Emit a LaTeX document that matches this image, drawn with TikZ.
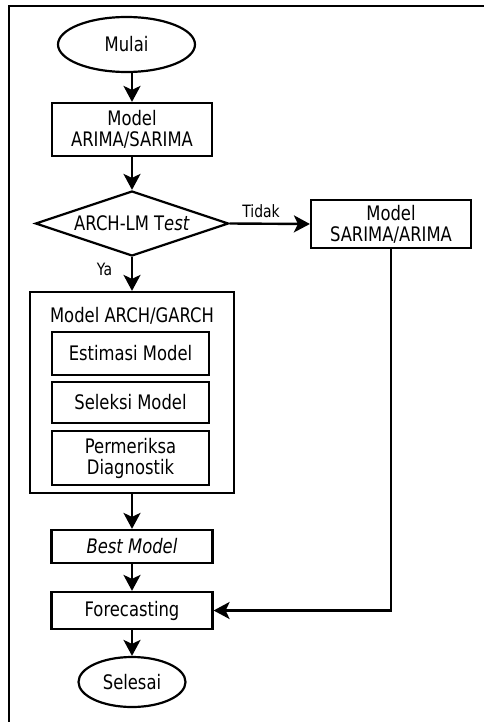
\documentclass[tikz,border=0pt]{standalone}
\usepackage{fontspec}
\setmainfont{DejaVu Sans}[FakeStretch=0.82]
\usetikzlibrary{shapes.geometric,arrows.meta}
\begin{document}
\begin{tikzpicture}[x=1pt,y=-1pt,
  every node/.style={font=\fontsize{20}{21}\selectfont, inner sep=0pt, align=center},
  box/.style={draw, line width=2.2pt, rectangle},
  oval/.style={draw, line width=2.2pt, ellipse},
  decision/.style={draw, line width=2.2pt, diamond, shape aspect=3},
  lbl/.style={font=\fontsize{17}{18}\selectfont},
  arr/.style={line width=2.4pt, -{Stealth[length=16pt,width=17pt,inset=4pt]}},
  frameline/.style={line width=2.4pt}]
\useasboundingbox (0,0) rectangle (483,722);
\coordinate (fbl) at (9,730);
\coordinate (ftl) at (9,6);
\coordinate (ftr) at (490,6);
\draw[frameline] (fbl) -- (ftl) -- (ftr);

\node[oval, minimum width=137pt, minimum height=55pt] (start) at (126.5,44.5) {Mulai};
\node[box, minimum width=160pt, minimum height=53pt] (m1) at (132,129.5) {Model\\ARIMA/SARIMA};
\node[decision, minimum width=193pt, minimum height=65pt] (dec) at (132,223.5) {ARCH-LM T\textit{est}};
\node[box, minimum width=160pt, minimum height=48pt] (r) at (391,224) {Model\\SARIMA/ARIMA};
\node[box, minimum width=204pt, minimum height=201pt] (big) at (132,392.5) {};
\node (title) at (132,316) {Model ARCH/GARCH};
\node[box, minimum width=157pt, minimum height=43pt] (est) at (130.5,353.5) {Estimasi Model};
\node[box, minimum width=157pt, minimum height=41pt] (sel) at (130.5,402.5) {Seleksi Model};
\node[box, minimum width=157pt, minimum height=54pt] (diag) at (130.5,458) {Permeriksa\\Diagnostik};
\node[box, minimum width=161pt, minimum height=33pt] (best) at (132,546.5) {\textit{Best Model}};
\node[box, minimum width=161pt, minimum height=37pt] (fc) at (132,610.5) {Forecasting};
\node[oval, minimum width=107pt, minimum height=50pt] (end) at (132,682) {Selesai};

\node[lbl] (tidak) at (261,211) {Tidak};
\node[lbl] (ya) at (104.5,269) {Ya};

\draw[arr] (start.south -| m1.north) -- (m1.north);
\draw[arr] (m1.south) -- (dec.north);
\draw[arr] (dec.east) -- (r.west);
\draw[arr] (dec.south) -- (big.north);
\draw[arr] (big.south) -- (best.north);
\draw[arr] (best.south) -- (fc.north);
\draw[arr] (fc.south) -- (end.north);
\draw[arr] (r.south) |- (fc.east);
\end{tikzpicture}
\end{document}
